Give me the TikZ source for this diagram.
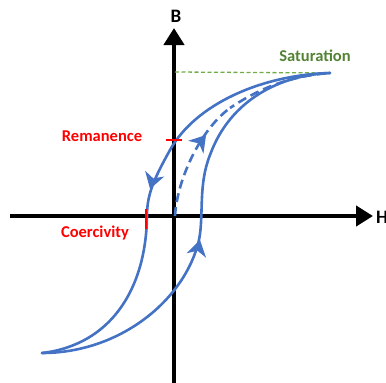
\documentclass[tikz,border=0pt]{standalone}
\usepackage{fontspec}
\setmainfont{Carlito}
\usetikzlibrary{arrows.meta}
\definecolor{loopblue}{HTML}{4472C4}
\definecolor{satgreen}{HTML}{548235}
\definecolor{dashgreen}{HTML}{70AD47}
\tikzset{
  axis/.style={line width=4.5pt,-{Triangle[length=17pt,width=20pt]}},
  loop/.style={loopblue,line width=2.6pt,line cap=round},
  redlbl/.style={text=red,font=\bfseries\fontsize{16.5}{18}\selectfont},
  tick/.style={red,line width=2pt},
  dirarrow/.style={fill=loopblue}
}
\newcommand{\looparrowat}[2]{\fill[dirarrow,shift={#1},rotate=#2] (6pt,0pt) -- (-10pt,10pt) -- (-5pt,0pt) -- (-10pt,-10pt) -- cycle;}
\begin{document}
\begin{tikzpicture}[x=1pt,y=-1pt]
\useasboundingbox (0,0) rectangle (386,383);
% axes
\coordinate (vb) at (174,383);
\coordinate (vt) at (174,28);
\coordinate (hl) at (10,216);
\coordinate (hr) at (373,216);
\draw[axis] (vb) -- (vt);
\draw[axis] (hl) -- (hr);
\node[font=\bfseries\fontsize{19}{20}\selectfont,inner sep=0pt] (B) at (176,16) {B};
\node[font=\bfseries\fontsize{19}{20}\selectfont,inner sep=0pt,anchor=west] (H) at (376,217) {H};
% key points
\coordinate (sat) at (330,73);
\coordinate (neg) at (42,353);
\coordinate (o) at (175,216);
\coordinate (rem) at (170,150);
\coordinate (coe) at (147,216);
\coordinate (r1) at (199,240);
\coordinate (r2) at (210,155);
\coordinate (d1) at (230,108);
% saturation line
\coordinate (satl) at (175,72);
\draw[dashgreen,line width=1.3pt,dash pattern=on 4pt off 2.5pt] (satl) -- (sat);
% upper (descending) branch
\draw[loop] (sat) .. controls (260,75) and (195,105) .. (rem);
\draw[loop] (rem) .. controls (153,180.6) and (147,195) .. (coe);
\draw[loop] (coe) .. controls (146,290) and (110,345) .. (neg);
% lower (ascending) branch
\draw[loop] (neg) .. controls (120,353) and (185,300) .. (r1);
\draw[loop] (r1) .. controls (204,215) and (198,185) .. (r2);
\draw[loop] (r2) .. controls (230,100) and (280,75) .. (sat);
% initial magnetisation (dashed)
\draw[loop,line cap=butt,dash pattern=on 9pt off 5pt] (o) .. controls (177,180) and (200,130) .. (d1);
\draw[loop,line cap=butt,dash pattern=on 9pt off 5pt,dash phase=4pt] (d1) .. controls (260,88) and (290,76) .. (sat);
% direction arrows
\coordinate (aup) at (151.8,183.2);
\coordinate (adash) at (202.2,139.6);
\coordinate (alow) at (198.6,245.8);
\looparrowat{(aup)}{-106.7}
\looparrowat{(adash)}{50}
\looparrowat{(alow)}{77}
% ticks
\coordinate (rt1) at (166,140);
\coordinate (rt2) at (182,140);
\draw[tick] (rt1) -- (rt2);
\coordinate (ct1) at (146,209);
\coordinate (ct2) at (146,229);
\draw[tick] (ct1) -- (ct2);
% labels
\node[text=satgreen,font=\bfseries\fontsize{16.5}{18}\selectfont,inner sep=0pt] (satlbl) at (315,56) {Saturation};
\node[redlbl,inner sep=0pt] (remlbl) at (102,136) {Remanence};
\node[redlbl,inner sep=0pt] (coelbl) at (95,233) {Coercivity};
\end{tikzpicture}
\end{document}
